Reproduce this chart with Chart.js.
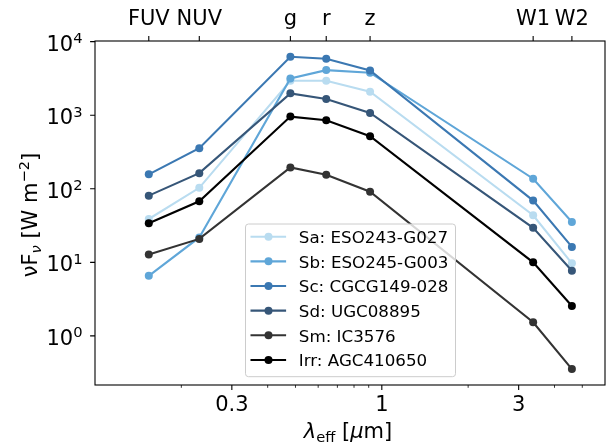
<!DOCTYPE html>
<html>
<head>
<meta charset="utf-8">
<title>SED templates</title>
<script src="https://cdn.jsdelivr.net/npm/chart.js@4.4.0/dist/chart.umd.min.js"></script>
<style>
    html, body { margin: 0; padding: 0; background: #fff; }
    #wrap { width: 609px; height: 442px; }
</style>
</head>
<body>
<div id="wrap"><canvas id="sedChart" width="609" height="442"></canvas></div>
<script>
// bands and their effective wavelengths (micron)
var bands = ['FUV', 'NUV', 'g', 'r', 'z', 'W1', 'W2'];
var wavelengths = [0.154, 0.231, 0.48, 0.64, 0.91, 3.37, 4.6];

// nuF_nu per band, W m^-2
var galaxies = ['Sa: ESO243-G027', 'Sb: ESO245-G003', 'Sc: CGCG149-028', 'Sd: UGC08895', 'Sm: IC3576', 'Irr: AGC410650'];
var fluxSa  = [38.8, 103, 2940, 2940, 2090, 43.6, 9.7];
var fluxSb  = [6.56, 21.8, 3160, 4100, 3780, 137, 35.4];
var fluxSc  = [157, 356, 6220, 5850, 4060, 69, 16.2];
var fluxSd  = [80.6, 163, 1980, 1660, 1073, 29.4, 7.7];
var fluxSm  = [12.8, 20.8, 195, 155, 91, 1.53, 0.354];
var fluxIrr = [34, 67.5, 957, 853, 518, 10, 2.55];
var colors = ['#b9dcf0', '#5fa6d8', '#3b78b2', '#365678', '#333333', '#000000'];

// axis ticks
var xTicks = [0.3, 1, 3];
var xMinorTicks = [0.2, 0.4, 0.5, 0.6, 0.7, 0.8, 0.9, 2, 4, 5];
var yTicks = [1, 10, 100, 1000, 10000];

var FONT = 'DejaVu Sans';

function toPoints(flux) {
    var pts = [];
    for (var i = 0; i < wavelengths.length; i++) {
        pts.push({x: wavelengths[i], y: flux[i]});
    }
    return pts;
}

var allFlux = [fluxSa, fluxSb, fluxSc, fluxSd, fluxSm, fluxIrr];
var datasets = [];
for (var i = 0; i < allFlux.length; i++) {
    datasets.push({
        label: galaxies[i],
        data: toPoints(allFlux[i]),
        borderColor: colors[i],
        backgroundColor: colors[i],
        pointBackgroundColor: colors[i],
        pointBorderWidth: 0,
        pointRadius: 4,
        borderWidth: 2.1,
        tension: 0,
        order: allFlux.length - i   // last series on top
    });
}

// draws text made of pieces with sub/superscripts, centred on 0
function drawRich(ctx, parts) {
    var total = 0;
    parts.forEach(function (p) {
        ctx.font = (p.italic ? 'italic ' : '') + p.s + 'px "' + FONT + '"';
        p.w = ctx.measureText(p.t).width;
        total += p.w;
    });
    var x = -total / 2;
    parts.forEach(function (p) {
        ctx.font = (p.italic ? 'italic ' : '') + p.s + 'px "' + FONT + '"';
        ctx.fillText(p.t, x, p.dy || 0);
        x += p.w;
    });
}

var decorPlugin = {
    id: 'decor',
    afterDraw: function (chart) {
        var ctx = chart.ctx;
        var a = chart.chartArea;
        var xs = chart.scales.x, xt = chart.scales.xTop, ys = chart.scales.y;
        ctx.save();
        ctx.strokeStyle = '#000';
        ctx.fillStyle = '#000';

        // tick marks
        ctx.lineWidth = 1.1;
        ctx.beginPath();
        xTicks.forEach(function (v) {
            var px = xs.getPixelForValue(v);
            ctx.moveTo(px, a.bottom); ctx.lineTo(px, a.bottom + 4.9);
        });
        wavelengths.forEach(function (v) {
            var px = xt.getPixelForValue(v);
            ctx.moveTo(px, a.top); ctx.lineTo(px, a.top - 4.9);
        });
        yTicks.forEach(function (v) {
            var py = ys.getPixelForValue(v);
            ctx.moveTo(a.left, py); ctx.lineTo(a.left - 4.9, py);
        });
        ctx.stroke();
        ctx.lineWidth = 0.8;
        ctx.beginPath();
        xMinorTicks.forEach(function (v) {
            var px = xs.getPixelForValue(v);
            ctx.moveTo(px, a.bottom); ctx.lineTo(px, a.bottom + 2.8);
        });
        ctx.stroke();

        // frame
        ctx.lineWidth = 1.1;
        ctx.strokeRect(a.left, a.top, a.right - a.left, a.bottom - a.top);

        // y tick labels 10^n
        ctx.textBaseline = 'alphabetic';
        ctx.textAlign = 'left';
        yTicks.forEach(function (v) {
            var py = ys.getPixelForValue(v);
            var exp = String(Math.round(Math.log10(v)));
            ctx.font = '14.7px "' + FONT + '"';
            var we = ctx.measureText(exp).width;
            ctx.font = '21px "' + FONT + '"';
            var wb = ctx.measureText('10').width;
            var xEnd = a.left - 12.5;
            ctx.fillText('10', xEnd - we - wb, py + 9);
            ctx.font = '14.7px "' + FONT + '"';
            ctx.fillText(exp, xEnd - we, py + 1.5);
        });

        // axis titles
        ctx.save();
        ctx.translate((a.left + a.right) / 2 - 2, 437.5);
        drawRich(ctx, [
            {t: 'λ', s: 21, italic: true},
            {t: 'eff', s: 14.7, dy: 4},
            {t: ' [', s: 21},
            {t: 'μ', s: 21, italic: true},
            {t: 'm]', s: 21}
        ]);
        ctx.restore();

        ctx.save();
        ctx.translate(36.5, (a.top + a.bottom) / 2 + 2);
        ctx.rotate(-Math.PI / 2);
        drawRich(ctx, [
            {t: 'νF', s: 21},
            {t: 'ν', s: 14.7, dy: 4, italic: true},
            {t: ' [W m', s: 21},
            {t: '−2', s: 14.7, dy: -8},
            {t: ']', s: 21}
        ]);
        ctx.restore();

        // legend, lower centre
        var lw = 210, lh = 152.7;
        var lx = (a.left + a.right) / 2 - lw / 2 + 0.5;
        var ly = a.bottom - 8.3 - lh;
        ctx.beginPath();
        ctx.roundRect(lx, ly, lw, lh, 3);
        ctx.fillStyle = 'rgba(255,255,255,0.8)';
        ctx.fill();
        ctx.strokeStyle = '#cccccc';
        ctx.lineWidth = 1;
        ctx.stroke();
        ctx.font = '16.7px "' + FONT + '"';
        ctx.textBaseline = 'middle';
        chart.data.datasets.forEach(function (ds, k) {
            var ry = ly + 12.7 + k * 24.65;
            ctx.strokeStyle = ds.borderColor;
            ctx.lineWidth = 2.1;
            ctx.beginPath();
            ctx.moveTo(lx + 5, ry); ctx.lineTo(lx + 40.6, ry);
            ctx.stroke();
            ctx.fillStyle = ds.borderColor;
            ctx.beginPath();
            ctx.arc(lx + 23, ry, 4, 0, Math.PI * 2);
            ctx.fill();
            ctx.fillStyle = '#000';
            ctx.fillText(ds.label, lx + 53.3, ry + 2);
        });
        ctx.restore();
    }
};

var chart = new Chart(document.getElementById('sedChart').getContext('2d'), {
    type: 'line',
    data: {datasets: datasets},
    plugins: [decorPlugin],
    options: {
        responsive: false,
        animation: false,
        devicePixelRatio: 1,
        layout: {padding: {left: 0, right: 2, top: 0, bottom: 0}},
        plugins: {legend: {display: false}, tooltip: {enabled: false}},
        scales: {
            x: {
                type: 'logarithmic',
                position: 'bottom',
                min: 0.1,
                max: 6,
                grid: {display: false, drawTicks: false},
                border: {display: false},
                afterBuildTicks: function (scale) {
                    scale.ticks = xTicks.map(function (v) { return {value: v}; });
                },
                afterFit: function (scale) { scale.height = 57; },
                ticks: {
                    autoSkip: false, maxRotation: 0, minRotation: 0, padding: 8,
                    color: '#000', font: {family: FONT, size: 21},
                    callback: function (v) { return String(v); }
                }
            },
            xTop: {
                type: 'logarithmic',
                position: 'top',
                min: 0.1,
                max: 6,
                grid: {display: false, drawTicks: false},
                border: {display: false},
                afterBuildTicks: function (scale) {
                    scale.ticks = wavelengths.map(function (v) { return {value: v}; });
                },
                afterFit: function (scale) { scale.height = 41; },
                ticks: {
                    autoSkip: false, maxRotation: 0, minRotation: 0, padding: 9,
                    color: '#000', font: {family: FONT, size: 21},
                    callback: function (v, i) { return bands[i]; }
                }
            },
            y: {
                type: 'logarithmic',
                min: 0.215,
                max: 10200,
                grid: {display: false, drawTicks: false},
                border: {display: false},
                ticks: {display: false},
                afterFit: function (scale) { scale.width = 95; }
            }
        }
    }
});
</script>
</body>
</html>
